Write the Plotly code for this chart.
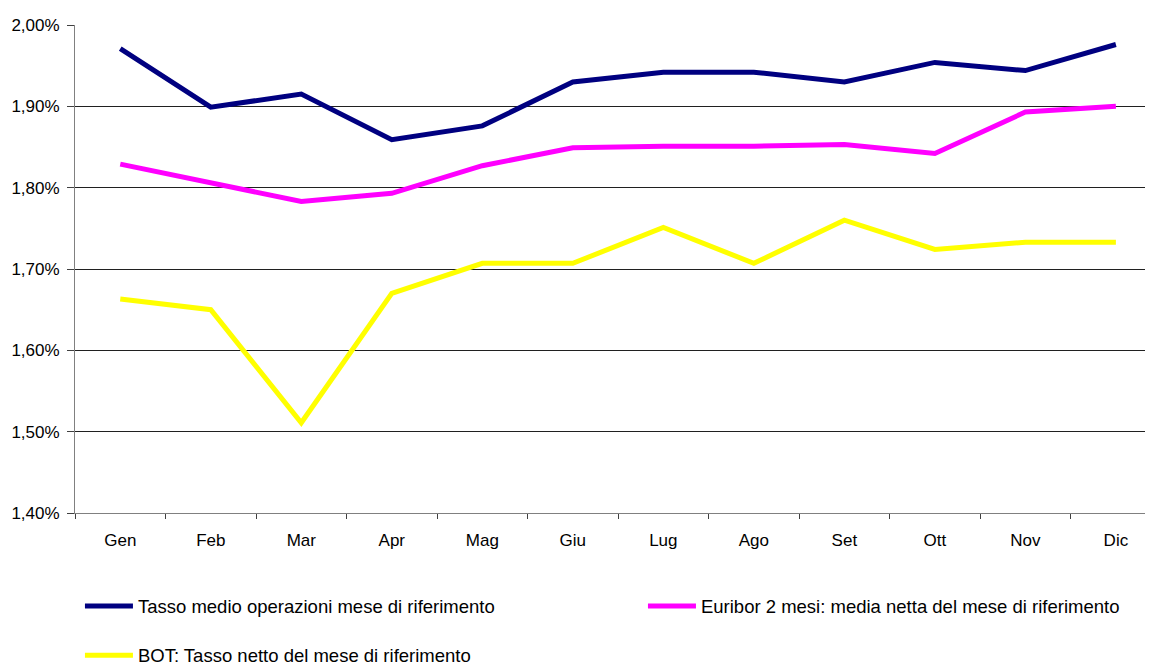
import plotly.graph_objects as go

months = ["Gen", "Feb", "Mar", "Apr", "Mag", "Giu", "Lug", "Ago", "Set", "Ott", "Nov", "Dic"]

tasso_medio = [1.971, 1.899, 1.915, 1.859, 1.876, 1.930, 1.942, 1.942, 1.930, 1.954, 1.944, 1.976]
euribor_2m = [1.829, 1.806, 1.783, 1.793, 1.827, 1.849, 1.851, 1.851, 1.853, 1.842, 1.893, 1.900]
bot_netto = [1.663, 1.650, 1.511, 1.670, 1.707, 1.707, 1.751, 1.707, 1.760, 1.724, 1.733, 1.733]

series_names = [
    "Tasso medio operazioni mese di riferimento",
    "Euribor 2 mesi: media netta del mese di riferimento",
    "BOT: Tasso netto del mese di riferimento",
]
series_colors = ["#000080", "#FF00FF", "#FFFF00"]

y_ticks = [1.40, 1.50, 1.60, 1.70, 1.80, 1.90, 2.00]
y_tick_text = [f"{v:.2f}".replace(".", ",") + "%" for v in y_ticks]

FONT = "Liberation Sans, Arial, sans-serif"

fig = go.Figure()
for name, vals, col, lg in zip(series_names, [tasso_medio, euribor_2m, bot_netto], series_colors,
                               ["legend", "legend2", "legend3"]):
    fig.add_trace(go.Scatter(
        x=months, y=vals, mode="lines", name=name,
        line=dict(color=col, width=5), legend=lg,
    ))

leg_common = dict(
    orientation="h", xanchor="left", yanchor="top", itemwidth=48,
    xref="container", yref="container",
    font=dict(family=FONT, size=18.5, color="#000000"),
    bgcolor="rgba(0,0,0,0)",
)

fig.update_layout(
    width=1153, height=666,
    margin=dict(l=67, r=8, t=17, b=161, autoexpand=False),
    paper_bgcolor="white", plot_bgcolor="white",
    font=dict(family=FONT, size=17, color="#000000"),
    showlegend=True,
    legend=dict(x=0.0624, y=0.1300, **leg_common),
    legend2=dict(x=0.5507, y=0.1300, **leg_common),
    legend3=dict(x=0.0624, y=0.0560, **leg_common),
    xaxis=dict(
        type="category", range=[-0.5, 11.41], automargin=False,
        showline=True, linecolor="#808080", linewidth=1,
        ticks="outside", tickson="boundaries", ticklen=5, tickcolor="#404040",
        ticklabelstandoff=12,
        showgrid=False, zeroline=False,
        tickfont=dict(family=FONT, size=17),
    ),
    yaxis=dict(
        range=[1.40, 2.00], tickvals=y_ticks, ticktext=y_tick_text, automargin=False,
        showline=True, linecolor="#808080", linewidth=1,
        ticks="outside", ticklen=7, tickcolor="#404040",
        ticklabelstandoff=4,
        showgrid=True, gridcolor="#202020", gridwidth=1,
        zeroline=False,
        tickfont=dict(family=FONT, size=17),
    ),
)

fig.write_html("out.html")
